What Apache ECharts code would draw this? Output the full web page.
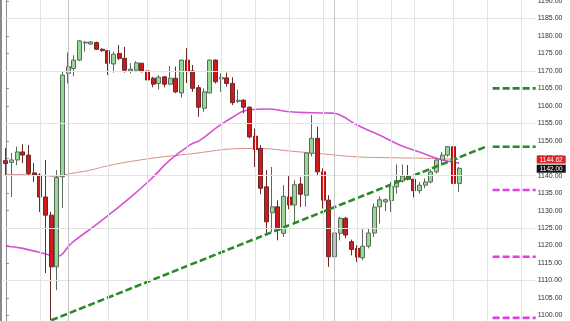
<!DOCTYPE html>
<html><head><meta charset="utf-8">
<script src="https://cdn.jsdelivr.net/npm/echarts@6/dist/echarts.min.js"></script>
<style>html,body{margin:0;padding:0;background:#fff;}#c{width:570px;height:321px;}#edge{position:absolute;left:0;top:0;width:2px;height:321px;background:#8a8a8a;}</style>
</head><body><div id="c"></div><div id="edge"></div>
<script>
// candles: open, close, low, high
const opens  = [1144.3,1143.8,1144.5,1146.8,1145.9,1140.8,1140.2,1133.9,1128.7,1113.9,
1139.7,1169.3,1170.7,1173.1,1178.0,1177.7,1178.1,1176.2,1175.8,1172.0,
1175.0,1173.6,1170.0,1170.2,1172.2,1170.0,1167.9,1166.4,1168.3,1166.2,
1167.9,1163.7,1173.1,1170.0,1165.2,1159.3,1163.7,1173.1,1167.7,1168.0,
1166.4,1161.3,1161.6,1159.6,1151.3,1147.8,1136.8,1129.4,1131.1,1123.5,
1133.9,1131.6,1137.6,1134.4,1146.4,1150.7,1141.1,1133.0,1116.8,1123.5,
1127.8,1121.1,1119.2,1116.5,1119.8,1123.6,1131.1,1132.5,1132.9,1136.8,
1138.5,1139.9,1139.0,1135.7,1137.3,1138.2,1141.1,1144.5,1145.9,1148.3,1137.8];
const closes = [1143.5,1144.5,1146.8,1145.9,1140.6,1140.2,1133.9,1128.7,1113.9,1139.5,
1168.8,1171.2,1173.1,1178.6,1178.2,1178.3,1176.2,1175.8,1172.2,1174.8,
1173.6,1170.2,1170.5,1172.3,1170.0,1167.4,1166.2,1168.2,1166.2,1167.9,
1164.0,1173.1,1169.8,1165.0,1159.6,1164.0,1173.1,1166.9,1168.1,1166.4,
1160.9,1161.6,1159.6,1151.1,1147.5,1136.4,1126.8,1131.1,1124.4,1134.1,
1131.6,1137.4,1134.7,1146.5,1150.7,1141.1,1133.0,1116.8,1123.6,1127.8,
1123.0,1118.9,1116.7,1119.8,1123.6,1131.0,1133.1,1133.1,1136.8,1138.6,
1139.9,1139.0,1135.7,1137.3,1138.2,1141.1,1144.5,1145.9,1148.3,1137.8,1142.1];
const lows   = [1140.2,1133.9,1143.0,1143.6,1140.2,1138.2,1129.6,1112.1,1098.6,1107.2,
1130.8,1166.4,1168.5,1172.8,1175.5,1177.4,1176.0,1175.5,1168.8,1169.5,
1173.1,1169.5,1169.3,1169.8,1169.5,1166.6,1165.3,1164.7,1165.3,1165.9,
1163.6,1162.4,1166.5,1164.0,1156.9,1158.3,1163.6,1166.4,1164.0,1165.5,
1160.2,1160.8,1157.9,1150.7,1142.5,1134.7,1123.4,1123.9,1121.5,1122.5,
1130.4,1126.7,1131.0,1131.1,1145.5,1140.2,1130.6,1113.9,1114.9,1121.5,
1122.1,1117.2,1115.3,1115.8,1119.2,1122.4,1126.3,1129.9,1129.6,1134.9,
1138.0,1138.7,1133.8,1134.9,1136.4,1137.8,1140.6,1143.5,1145.4,1136.4,1135.4];
const highs  = [1147.9,1146.5,1148.3,1149.0,1148.8,1143.6,1140.7,1144.5,1129.6,1141.6,
1169.8,1175.3,1174.5,1178.8,1178.6,1178.5,1178.4,1176.5,1176.0,1175.5,
1177.4,1176.9,1172.2,1172.8,1172.2,1170.0,1168.3,1168.8,1168.5,1171.4,
1171.2,1173.1,1176.5,1171.7,1165.9,1165.0,1173.3,1173.3,1169.3,1169.5,
1168.2,1164.7,1161.9,1159.9,1153.5,1148.8,1141.6,1142.5,1133.0,1137.3,
1139.9,1138.7,1139.6,1146.8,1157.4,1154.0,1142.1,1134.4,1126.1,1128.2,
1128.2,1121.7,1120.1,1124.7,1124.9,1132.1,1134.1,1133.5,1138.2,1143.2,
1143.2,1143.0,1139.0,1138.2,1139.2,1141.8,1144.9,1146.8,1148.5,1148.3,1142.5];

// x slots (81 candles + empty space on the right)
const categories = Array.from({length: 94}, (_, i) => String(i + 1));

// moving averages: [slot index, value]
const fastMA = [[0,1119.8],[3,1119.2],[7.8,1117.2],[8.7,1116.8],[11.9,1121.1],[16.6,1126.8],[21.4,1133.0],
[25.4,1138.7],[29,1144.5],[32.5,1148.8],[34.3,1150.2],[37.3,1153.9],[40.1,1156.8],[42.7,1158.8],[46.1,1159.1],
[50.1,1158.3],[54.2,1158.0],[57.7,1157.9],[59,1157.4],[62,1154.5],[66,1151.6],[69.5,1148.8],[73,1146.8],[76.6,1144.7],[80,1143.6]];
const slowMA = [[0,1140.4],[4.8,1140.2],[7.8,1139.9],[8.9,1139.7],[10.1,1140.2],[14.9,1141.6],[17.9,1142.8],
[23.7,1144.5],[30.7,1145.9],[43.6,1147.8],[51.9,1146.8],[54.9,1146.4],[62,1145.4],[66,1145.2],[76,1144.9],[80,1144.62]];

// drawn lines
const trendLine = [[8,1098.6],[84.7,1148.3]];
const greenLevels = [1165.0, 1148.3];
const magentaLevels = [1135.9, 1116.8, 1099.3];
const levelStart = 85.9, levelEnd = 93.5;

// price tags
const maTag = 1144.62;
const lastTag = 1142.00;

// axis
const yTicks = [1100,1105,1110,1115,1120,1125,1130,1135,1140,1145,1150,1155,1160,1165,1170,1175,1180,1185,1190];
const yGrid = [1110,1125,1140,1155,1170,1185];
const xGridLight = [6,18,25,32,38,44,50,56,62,68,72,79,85,91];
const xGridDark = [11,58];

const candleData = opens.map((o, i) => [o, closes[i], lows[i], highs[i]]);

const gridLines = [];
yGrid.forEach(v => gridLines.push({yAxis: v, lineStyle: {color: '#e4e4e4', width: 1, type: 'solid'}}));
xGridLight.forEach(v => gridLines.push({xAxis: v, lineStyle: {color: '#e4e4e4', width: 1, type: 'solid'}}));
xGridDark.forEach(v => gridLines.push({xAxis: v, lineStyle: {color: '#c4c4c4', width: 1, type: 'solid'}}));

function levelSeries(levels, color) {
  return levels.map(v => ({
    type: 'line', xAxisIndex: 1, yAxisIndex: 0, symbol: 'none', z: 4, silent: true,
    data: [[levelStart, v], [levelEnd, v]],
    lineStyle: {color: color, width: 2.6, type: [7, 3]}
  }));
}

const FONT = 'Liberation Sans, Arial, sans-serif';
const yMin = 1098.4, yMax = 1190.3;

const chart = echarts.init(document.getElementById('c'), null, {renderer: 'canvas'});
chart.setOption({
  animation: false,
  backgroundColor: '#fff',
  grid: {left: 3, right: 34.3, top: 0, bottom: 0, outerBoundsMode: 'none', containLabel: false},
  xAxis: [
    {type: 'category', data: categories, boundaryGap: true, axisLine: {show: false}, axisTick: {show: false}, axisLabel: {show: false}, splitLine: {show: false}},
    {type: 'value', min: -0.5, max: 93.5, show: false}
  ],
  yAxis: [{
    type: 'value', position: 'right', min: yMin, max: yMax, scale: true,
    axisLine: {show: true, lineStyle: {color: '#8c8c8c', width: 1}},
    axisTick: {show: true, length: 3, customValues: yTicks, lineStyle: {color: '#8c8c8c'}},
    axisLabel: {show: true, customValues: yTicks, margin: 2, fontSize: 7, color: '#2e2e2e', fontFamily: FONT,
      formatter: v => v.toFixed(2)},
    splitLine: {show: false}
  }, {
    type: 'value', position: 'right', min: yMin, max: yMax, scale: true, offset: 0, z: 10,
    axisLine: {show: false}, axisTick: {show: false}, splitLine: {show: false},
    axisLabel: {show: true, customValues: [maTag, lastTag], margin: 1, fontFamily: FONT,
      formatter: v => (Math.abs(v - maTag) < 0.001 ? '{r|' : '{b|') + v.toFixed(2) + '}',
      rich: {
        r: {backgroundColor: '#d42626', color: '#fff', fontSize: 6.5, padding: [1, 3, 0, 3], fontFamily: FONT},
        b: {backgroundColor: '#111', color: '#fff', fontSize: 6.5, padding: [1, 3, 0, 3], fontFamily: FONT}
      }}
  }],
  series: [
    {type: 'line', xAxisIndex: 1, data: [], z: 0, silent: true,
     markLine: {silent: true, symbol: ['none', 'none'], label: {show: false}, animation: false, data: gridLines}},
    {type: 'line', xAxisIndex: 1, data: slowMA, symbol: 'none', smooth: true, z: 1, silent: true,
     lineStyle: {color: '#d98c84', width: 1}},
    {type: 'line', xAxisIndex: 1, data: fastMA, symbol: 'none', smooth: true, z: 1, silent: true,
     lineStyle: {color: '#d651d6', width: 1.6}},
    {type: 'candlestick', xAxisIndex: 0, data: candleData, barWidth: 4.3, z: 2,
     itemStyle: {color: '#97d897', color0: '#cc1b1b', borderColor: '#5b6b5b', borderColor0: '#6a2a2a', borderWidth: 1}},
    {type: 'line', xAxisIndex: 1, data: trendLine, symbol: 'none', z: 4, silent: true,
     lineStyle: {color: '#2a8a2a', width: 2.6, type: [7, 3]}},
    ...levelSeries(greenLevels, '#2a8a2a'),
    ...levelSeries(magentaLevels, '#e23ee2')
  ]
});
</script></body></html>
